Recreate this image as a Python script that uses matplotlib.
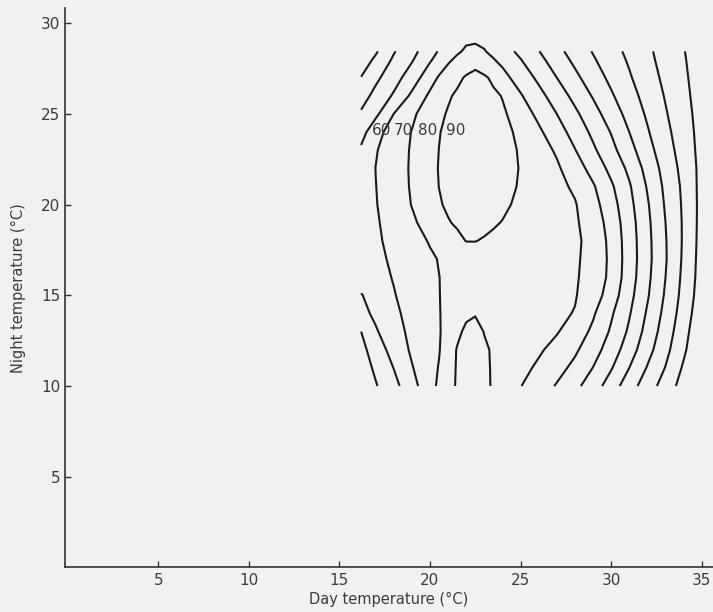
import numpy as np
import matplotlib
matplotlib.use("Agg")
import matplotlib.pyplot as plt

nan = np.nan

# Day temperatures (°C) of the grid columns
day_temps = [16.2, 17, 18, 19, 20, 20.5, 21, 21.5, 22, 22.5, 23, 23.5, 24, 24.5, 25,
             26, 27, 28, 29, 30, 31, 32, 33, 34, 35]

# Night temperatures (°C) of the grid rows
night_temps = [10, 11, 12, 13, 14, 15, 16, 17, 18, 19, 20, 21, 22, 23, 24, 25, 26, 27, 28, 28.45, 29]

# Relative growth (%) along each night temperature, one value per day temperature
night_10 = [43, 49.2, 56.9, 66.5, 76.7, 81.7, 86.6, 91, 94.4, 95.2, 92, 89, 86.1, 83.2, 80.3, 74.8, 69.2, 62.5, 54.9, 45.1, 34.3, 24.9, 15.6, 5.8, 0]
night_11 = [45, 51.7, 60.2, 69.4, 76.7, 80.5, 86, 90.8, 94.1, 94.8, 91.7, 89, 87, 84.9, 82.8, 78.4, 73.4, 67.5, 59.8, 50.8, 40, 29.3, 19.6, 8.7, 0]
night_12 = [47, 54.8, 63.7, 71.4, 76.8, 79.5, 85, 90.6, 93.3, 93.9, 91.1, 89.1, 87.5, 86, 84.4, 81.3, 76.9, 71.6, 64.1, 55.3, 44.8, 33.5, 22.8, 11.7, 0.3]
night_13 = [50, 58.9, 66.3, 72.3, 76.9, 79.3, 83.3, 87.9, 91.9, 92.6, 89.7, 88.6, 87.5, 86.3, 85.2, 82.9, 80.7, 75.3, 68.1, 58.7, 48.4, 36.5, 25.1, 13.6, 1.6]
night_14 = [57, 62, 68.1, 73, 77.4, 79.6, 82.3, 85.2, 88.2, 89.5, 88.7, 87.8, 86.9, 86, 85.2, 83.4, 81.7, 79.6, 71.2, 61.3, 50.8, 38.8, 27.1, 15.4, 3.4]
night_15 = [59.5, 64, 69.5, 73.7, 77.7, 79.8, 81.8, 83.8, 85.9, 87.4, 86.8, 86.1, 85.5, 84.9, 84.3, 83, 81.8, 80.6, 75.2, 65, 53.1, 41, 28.8, 16.8, 4.9]
night_16 = [64, 66.9, 70.5, 74.3, 78, 79.9, 81.5, 83.1, 84.7, 85.9, 85.4, 85, 84.5, 84, 83.5, 82.6, 81.7, 80.7, 77.5, 67.1, 54.8, 42.2, 30, 17.7, 5.7]
night_17 = [66, 68.2, 71.2, 75, 78.7, 80.4, 81.8, 83.2, 84.7, 85.3, 84.9, 84.5, 84.1, 83.6, 83.2, 82.4, 81.5, 80.7, 78.3, 67.4, 55.3, 42.9, 30.8, 18.4, 6]
night_18 = [66.5, 68.7, 72.2, 76.4, 80.7, 83.1, 85.5, 87.9, 90.2, 90.2, 89.3, 88.5, 87.7, 86.9, 86.1, 84.5, 82.9, 81.3, 77.7, 67, 55.1, 42.7, 30.6, 18.8, 6.4]
night_19 = [66.5, 69, 73.4, 78.4, 83.8, 86.6, 89.4, 91.1, 92.4, 93.3, 92.1, 90.8, 89.7, 88.6, 87.6, 85.4, 83.3, 81.2, 75.8, 65.9, 54.4, 42.1, 30, 18.8, 6.7]
night_20 = [66, 69.5, 74.8, 80.3, 86.2, 89.2, 91.3, 93, 94.8, 96.5, 94.8, 93.2, 91.5, 89.9, 88.6, 85.9, 83.3, 80.7, 73.6, 64, 52.9, 41, 29, 18.5, 6.9]
night_21 = [65, 69.8, 75.3, 80.9, 87.1, 90.1, 92.1, 94.1, 96.1, 98.1, 96.9, 94.9, 93, 91, 89.2, 85.9, 82.6, 78.5, 71.1, 61.5, 51.1, 39.2, 27.9, 18, 6.9]
night_22 = [63.5, 70.1, 75.5, 81.1, 87.4, 90.4, 92.7, 95, 97.2, 99.5, 98.2, 96, 93.8, 91.6, 89.5, 85.4, 81.4, 74.8, 66.4, 57.3, 47.8, 36.7, 26.3, 16.9, 7.1]
night_23 = [61.5, 69.3, 75.2, 80.9, 87.1, 90.1, 92.5, 94.8, 97.2, 99.5, 98.2, 95.9, 93.6, 91.4, 89, 84.1, 78.8, 70.4, 61.7, 53, 43.5, 33.5, 24.3, 15.6, 6.8]
night_24 = [56.3, 66.4, 74.6, 80.3, 86.5, 89.6, 91.9, 94.1, 96.3, 98.6, 97.2, 94.9, 92.6, 90.4, 87.6, 81.7, 74.4, 66.2, 57.9, 49.5, 40, 30.9, 22.5, 14.5, 6.6]
night_25 = [51.3, 57.8, 70.1, 78.3, 85, 88.1, 90.8, 92.9, 95, 97.1, 95.7, 93.5, 91.3, 88.6, 85, 77.7, 70, 62, 53.8, 45.2, 36.7, 28.6, 20.8, 13.5, 6.2]
night_26 = [45.8, 52.9, 61.2, 71.9, 81.8, 85.4, 88.9, 91.4, 93.5, 95.5, 93.6, 91.7, 89.6, 85.2, 80.9, 73.1, 65.2, 57.2, 49.2, 41.2, 33.7, 26.4, 19.3, 12.5, 5.7]
night_27 = [40.3, 47.8, 56, 64.9, 75.9, 81, 84.5, 87.9, 91, 93.4, 91.3, 88.2, 83.6, 79.3, 75.6, 68, 60, 52.3, 44.8, 37.7, 31, 24.3, 17.8, 11.6, 5.3]
night_28 = [34.5, 41.7, 51.4, 59, 68.8, 73.7, 78.5, 81.7, 84.1, 85.5, 83, 80.5, 77.2, 73.8, 70.3, 62.7, 55.1, 47.8, 41, 34.8, 28.8, 22.5, 16.5, 10.8, 5]
night_28_45 = [31, 38.7, 49.2, 56.9, 66, 70.8, 74.8, 78.7, 81.4, 82.6, 80.5, 77.6, 74.3, 71, 67.5, 60.3, 52.8, 45.9, 39.4, 33.6, 27.7, 21.8, 16.1, 10.4, 4.8]
night_29 = [nan, nan, nan, nan, nan, nan, 75, 77.5, 79, 79.2, 78.5, 76, 73, nan, nan, nan, nan, nan, nan, nan, nan, nan, nan, nan, nan]

# Contour levels and the levels written on the plot
levels = [10, 20, 30, 40, 50, 60, 70, 80, 90]
labelled_levels = [60, 70, 80, 90]
label_day = [17.32, 18.53, 19.86, 21.44]
label_night = 24.07

x_ticks = [5, 10, 15, 20, 25, 30, 35]
y_ticks = [5, 10, 15, 20, 25, 30]

growth = np.ma.masked_invalid(np.array([
    night_10, night_11, night_12, night_13, night_14, night_15, night_16,
    night_17, night_18, night_19, night_20, night_21, night_22, night_23,
    night_24, night_25, night_26, night_27, night_28, night_28_45, night_29,
], dtype=float))

ink = "#1a1a1a"
txt = "#3c3c3c"
paper = "#f1f1f1"

fig = plt.figure(figsize=(7.13, 6.12), dpi=100, facecolor=paper)
ax = fig.add_axes([0.0905, 0.0729, 0.9095, 0.914])
ax.set_facecolor(paper)

ax.contour(day_temps, night_temps, growth, levels=levels, colors=ink, linewidths=1.5)
for lev, xl in zip(labelled_levels, label_day):
    ax.text(xl, label_night, str(lev), ha="center", va="center", fontsize=11, color=txt)

ax.set_xlim(-0.17, 35.62)
ax.set_ylim(0, 30.84)
for side in ("top", "right"):
    ax.spines[side].set_visible(False)
for side in ("left", "bottom"):
    ax.spines[side].set_color("#333333")
    ax.spines[side].set_linewidth(1.2)
ax.set_xticks(x_ticks)
ax.set_yticks(y_ticks)
ax.tick_params(direction="in", length=4.5, width=1, color="#333333", labelcolor=txt, labelsize=11)
ax.tick_params(axis="x", pad=4)
ax.tick_params(axis="y", pad=3)
ax.set_xlabel("Day temperature (°C)", fontsize=10.5, color=txt, labelpad=3)
ax.set_ylabel("Night temperature (°C)", fontsize=10.5, color=txt, labelpad=11)

fig.savefig("out.png", facecolor=fig.get_facecolor())
